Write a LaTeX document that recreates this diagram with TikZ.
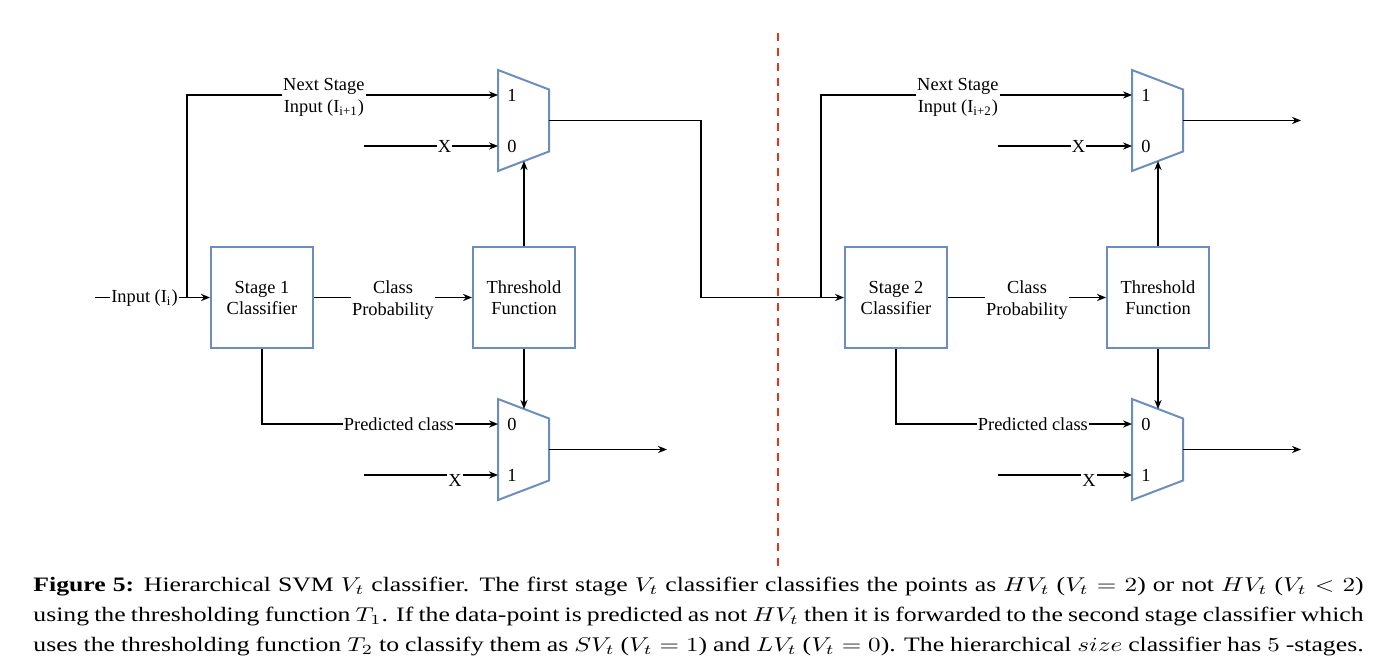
\documentclass[tikz,border=0pt]{standalone}
\usepackage{fontspec}
\setmainfont{Liberation Serif}
\usetikzlibrary{arrows.meta}

\definecolor{boxblue}{RGB}{108,142,191}
\definecolor{cutred}{RGB}{232,52,28}

% mux: nombre, x, y, entrada arriba, entrada abajo
\newcommand{\muxblock}[5]{%
  \draw[muxshape] (#2,#3-50.5) -- (#2+51,#3-31) -- (#2+51,#3+31) -- (#2,#3+50.5) -- cycle;
  \coordinate (#1-a) at (#2,#3-25.5);
  \coordinate (#1-b) at (#2,#3+25.5);
  \coordinate (#1-out) at (#2+51,#3);
  \coordinate (#1-top) at (#2+26,#3-40.6);
  \coordinate (#1-bot) at (#2+26,#3+40.6);
  \node[pinlbl] (#1-la) at (#2+14,#3-25.5) {#4};
  \node[pinlbl] (#1-lb) at (#2+14,#3+25.5) {#5};
}

\begin{document}
\begin{tikzpicture}[
    x=0.5pt, y=-0.5pt,
    block/.style={rectangle, draw=boxblue, line width=1pt, minimum width=51pt, minimum height=50.5pt, inner sep=0pt, align=center, font=\fontsize{9.2}{10.5}\selectfont},
    muxshape/.style={draw=boxblue, line width=1pt},
    wire/.style={line width=0.6pt, black},
    arr/.style={wire, -{Stealth[length=4.5pt,width=3.6pt]}},
    lbl/.style={fill=white, inner sep=0.6pt, align=center, font=\fontsize{9.2}{11}\selectfont},
    pinlbl/.style={inner sep=0pt, font=\fontsize{9.2}{10.5}\selectfont},
    divider/.style={draw=cutred, line width=1.4pt, dash pattern=on 4pt off 3.5pt},
    caption/.style={anchor=north west, inner sep=0pt}
]
\useasboundingbox (0,0) rectangle (1377,669);

% Etapa 1
\node[block] (stage1) at (262,297.5) {Stage 1\\Classifier};
\node[block] (thr1) at (524,297.5) {Threshold\\Function};
\muxblock{muxA}{498}{120.5}{1}{0}
\muxblock{muxB}{498}{449.5}{0}{1}

\coordinate (inA) at (95,297.5);
\coordinate (brA) at (187,297.5);
\coordinate (xA) at (364,146);
\coordinate (xB) at (364,475);
\coordinate (jogA) at (701,120.5);
\coordinate (outB) at (667,449.5);

\node[lbl] (inlbl) at (144.5,298.5) {Input (I\textsubscript{i})};
\draw[wire] (inA) -- (inlbl.west |- inA);
\draw[arr] (inlbl.east |- inA) -- (stage1.west);
\draw[arr] (brA) |- node[lbl, pos=0.72, yshift=-1.3pt] (nxtA) {Next Stage\\Input (I\textsubscript{i+1})} (muxA-a);
\draw[arr] (xA) -- node[lbl, pos=0.6] (xlA) {X} (muxA-b);
\draw[arr] (stage1) -- node[lbl, yshift=-1.3pt] (probA) {Class\\Probability} (thr1);
\draw[arr] (thr1.north) -- (muxA-bot);
\draw[arr] (thr1.south) -- (muxB-top);
\draw[arr] (stage1.south) |- node[lbl, pos=0.79] (predA) {Predicted class} (muxB-a);
\draw[arr] (xB) -- node[lbl, pos=0.68, yshift=-2.5pt] (xlB) {X} (muxB-b);
\draw[arr] (muxB-out) -- (outB);

% Etapa 2
\node[block] (stage2) at (896,297.5) {Stage 2\\Classifier};
\node[block] (thr2) at (1158,297.5) {Threshold\\Function};
\muxblock{muxC}{1132}{120.5}{1}{0}
\muxblock{muxD}{1132}{449.5}{0}{1}

\coordinate (brB) at (821,297.5);
\coordinate (xC) at (998,146);
\coordinate (xD) at (998,475);
\coordinate (outC) at (1301,120.5);
\coordinate (outD) at (1301,449.5);

\draw[arr] (muxA-out) -- (jogA) |- (stage2.west);
\draw[arr] (brB) |- node[lbl, pos=0.72, yshift=-1.3pt] (nxtB) {Next Stage\\Input (I\textsubscript{i+2})} (muxC-a);
\draw[arr] (xC) -- node[lbl, pos=0.6] (xlC) {X} (muxC-b);
\draw[arr] (stage2) -- node[lbl, yshift=-1.3pt] (probB) {Class\\Probability} (thr2);
\draw[arr] (thr2.north) -- (muxC-bot);
\draw[arr] (thr2.south) -- (muxD-top);
\draw[arr] (stage2.south) |- node[lbl, pos=0.79] (predB) {Predicted class} (muxD-a);
\draw[arr] (xD) -- node[lbl, pos=0.68, yshift=-2.5pt] (xlD) {X} (muxD-b);
\draw[arr] (muxC-out) -- (outC);
\draw[arr] (muxD-out) -- (outD);

% Corte
\coordinate (cutT) at (778,33);
\coordinate (cutB) at (778,566);
\draw[divider] (cutT) -- (cutB);

% Pie
\node[caption] (cap) at (33,577) {\scalebox{1.255}[1]{\parbox[t]{530pt}{\fontsize{10.25}{14.8}\selectfont \textbf{Figure 5:} Hierarchical SVM $V_t$ classifier. The first stage $V_t$ classifier classifies the points as $HV_t$ ($V_t = 2$) or not $HV_t$ ($V_t < 2$)\linebreak using the thresholding function $T_1$. If the data-point is predicted as not $HV_t$ then it is forwarded to the second stage classifier which\linebreak uses the thresholding function $T_2$ to classify them as $SV_t$ ($V_t = 1$) and $LV_t$ ($V_t = 0$). The hierarchical $size$ classifier has $5$ -stages.}}};

\end{tikzpicture}
\end{document}
